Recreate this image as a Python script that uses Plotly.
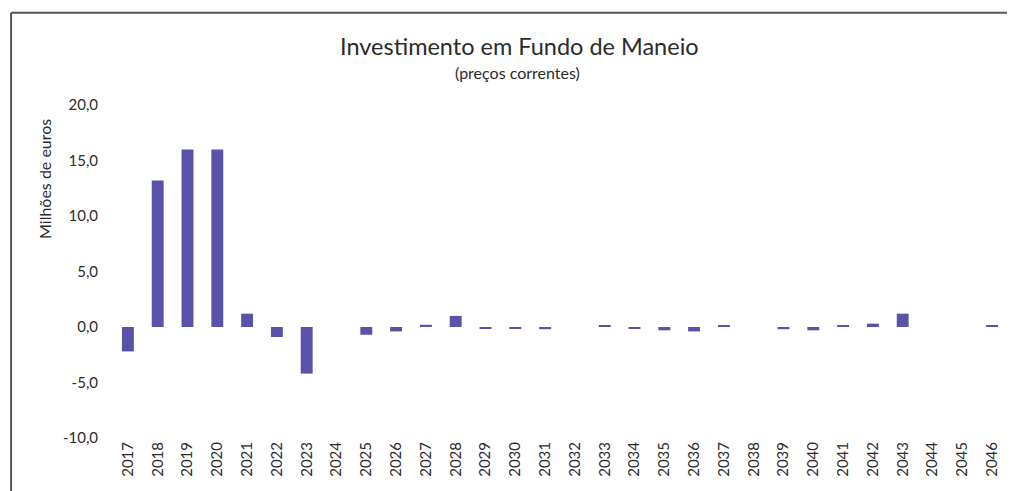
import plotly.graph_objects as go

years = [str(y) for y in range(2017, 2047)]
values = [-2.2, 13.2, 16.0, 16.0, 1.2, -0.9, -4.2, 0.0, -0.7, -0.4,
          0.2, 1.0, -0.1, -0.1, -0.2, 0.0, 0.1, -0.1, -0.3, -0.4,
          0.1, 0.0, -0.2, -0.3, 0.1, 0.3, 1.2, 0.0, 0.0, 0.1]
y_ticks = [-10, -5, 0, 5, 10, 15, 20]
y_tick_text = ["-10,0", "-5,0", "0,0", "5,0", "10,0", "15,0", "20,0"]

font_family = "Lato, 'Open Sans', sans-serif"
txt = "#2b2b2b"

fig = go.Figure(go.Bar(
    x=years, y=values,
    marker=dict(color="#5a52a8", line=dict(width=0)),
))

# plot area: left 105, right 999, top 97, bottom 430 (page has 8px body offset)
fig.update_layout(
    width=1015, height=491,
    paper_bgcolor="white", plot_bgcolor="white",
    margin=dict(l=105, r=16, t=97, b=61),
    bargap=0.6,
    showlegend=False,
    font=dict(family=font_family, color=txt),
)
fig.update_xaxes(
    type="category", tickangle=-90, showgrid=False, showline=False,
    ticks="", tickfont=dict(size=15, color=txt),
)
fig.update_yaxes(
    range=[-10, 20], tickvals=y_ticks, ticktext=y_tick_text,
    showgrid=False, zeroline=False, showline=False, ticks="",
    tickfont=dict(size=15, color=txt), ticklabelstandoff=14,
)

fig.add_annotation(text="Investimento em Fundo de Maneio", xref="paper", yref="paper",
                   x=0.455, y=1, yshift=59, xanchor="center", yanchor="middle",
                   showarrow=False, font=dict(size=23.5, color=txt, family=font_family))
fig.add_annotation(text="(preços correntes)", xref="paper", yref="paper",
                   x=0.452, y=1, yshift=33, xanchor="center", yanchor="middle",
                   showarrow=False, font=dict(size=16, color=txt, family=font_family))
fig.add_annotation(text="Milhões de euros", xref="paper", yref="paper",
                   x=0, xshift=-68, y=0.778, textangle=-90,
                   xanchor="center", yanchor="middle",
                   showarrow=False, font=dict(size=16, color=txt, family=font_family))

# outer frame (top and left border of the original chart box)
fig.add_shape(type="line", xref="paper", yref="paper",
              x0=-0.114, x1=1.03, y0=1.277, y1=1.277,
              line=dict(color="#555555", width=2))
fig.add_shape(type="line", xref="paper", yref="paper",
              x0=-0.114, x1=-0.114, y0=1.277, y1=-0.2,
              line=dict(color="#555555", width=2))

fig.write_html("out.html")
